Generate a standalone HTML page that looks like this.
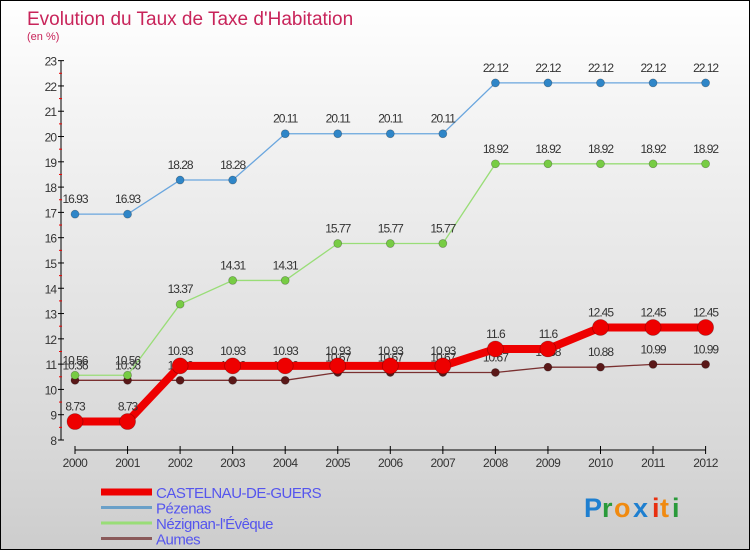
<!DOCTYPE html>
<html><head><meta charset="utf-8"><style>
html,body{margin:0;padding:0}
body{width:750px;height:550px;overflow:hidden;font-family:"Liberation Sans",sans-serif}
#wrap{position:relative;width:748px;height:548px;border:1px solid #000;background:linear-gradient(#fff,#f4f4f4 20%,#d6d6d6 85%,#cdcdcd)}
</style></head><body>
<div id="wrap">
<svg id="chart" width="748" height="548"></svg>
</div>
<script>
const years=["2000","2001","2002","2003","2004","2005","2006","2007","2008","2009","2010","2011","2012"];
const castelnau=[8.73,8.73,10.93,10.93,10.93,10.93,10.93,10.93,11.6,11.6,12.45,12.45,12.45];
const pezenas=[16.93,16.93,18.28,18.28,20.11,20.11,20.11,20.11,22.12,22.12,22.12,22.12,22.12];
const nezignan=[10.56,10.56,13.37,14.31,14.31,15.77,15.77,15.77,18.92,18.92,18.92,18.92,18.92];
const aumes=[10.36,10.36,10.36,10.36,10.36,10.67,10.67,10.67,10.67,10.88,10.88,10.99,10.99];
const yTicks=[8,9,10,11,12,13,14,15,16,17,18,19,20,21,22,23];
const NS="http://www.w3.org/2000/svg";
const svg=document.getElementById('chart');
const X=i=>74+i*52.55;
const Y=v=>439-(v-8)*25.29;
function el(t,a,p){const e=document.createElementNS(NS,t);for(const k in a)e.setAttribute(k,a[k]);(p||svg).appendChild(e);return e;}
function txt(x,y,s,a,p){const e=el('text',Object.assign({x:x,y:y},a),p);e.textContent=s;return e;}
const title=txt(26,24,"Evolution du Taux de Taxe d'Habitation",{fill:'#c8245a','font-size':19});


const sub=txt(26,39,"(en %)",{fill:'#c8245a','font-size':11});


const ya=el('line',{x1:60,y1:Y(23),x2:60,y2:Y(8),stroke:'#000','stroke-width':1});


yTicks.forEach(v=>{
 el('line',{x1:57,x2:63,y1:Y(v),y2:Y(v),stroke:'#000'});
 if(v<23) el('line',{x1:58,x2:61,y1:Y(v+0.5),y2:Y(v+0.5),stroke:'#e00'});
 const t=txt(55,Y(v)+5,String(v),{'text-anchor':'end','font-size':12,fill:'#333','letter-spacing':'-1'});
 
 
});
const xa=el('line',{x1:X(0),y1:449,x2:X(12),y2:449,stroke:'#000'});


years.forEach((y,i)=>{
 el('line',{x1:X(i),x2:X(i),y1:445,y2:453,stroke:'#000'});
 const t=txt(X(i),466,y,{'text-anchor':'middle','font-size':12,fill:'#333','letter-spacing':'-0.5'});
 
 
});
function series(vals,color,dot,lw,r,name){
 const g=el('g',{});
 
 
 el('polyline',{points:vals.map((v,i)=>X(i)+','+Y(v)).join(' '),fill:'none',stroke:color,'stroke-width':lw},g);
 vals.forEach((v,i)=>{
  const c=el('circle',{cx:X(i),cy:Y(v),r:r,fill:dot,stroke:'rgba(0,0,0,0.3)','stroke-width':0.7},g);
  
  
  txt(X(i),Y(v)-11,String(v),{'text-anchor':'middle','font-size':12,fill:'#333','letter-spacing':'-1'},g);
 });
}
series(aumes,'#7a3030','#5a1818',1.3,4,'series-aumes');
series(nezignan,'#99dd77','#77cc44',1.3,4,'series-nezignan');
series(pezenas,'#6aa6de','#2f86c8',1.3,4,'series-pezenas');
series(castelnau,'#ee0000','#ee0000',8,8,'series-castelnau');
const leg=[["CASTELNAU-DE-GUERS",'#ee0000',7],["Pézenas",'#6aa0c8',3],["Nézignan-l'Évêque",'#99dd77',3],["Aumes",'#8a5a5a',3]];
leg.forEach((l,i)=>{
 const g=el('g',{});
 
 
 const y=491+i*15.5;
 el('line',{x1:100,x2:151,y1:y,y2:y,stroke:l[1],'stroke-width':l[2]},g);
 txt(155,y+6,l[0],{'font-size':15,fill:'#5555ee','letter-spacing':'-0.5'},g);
});
const lg=el('g',{});


const parts=[["P",'#1e7fd0',583],["r",'#2a9a3a',601],["o",'#f08a10',613],["x",'#1e7fd0',632],["i",'#e83010',651],["t",'#f08a10',659],["i",'#2a9a3a',671]];
parts.forEach(p=>txt(p[2],516,p[0],{fill:p[1],'font-size':27,'font-weight':'bold'},lg));
</script>
</body></html>
